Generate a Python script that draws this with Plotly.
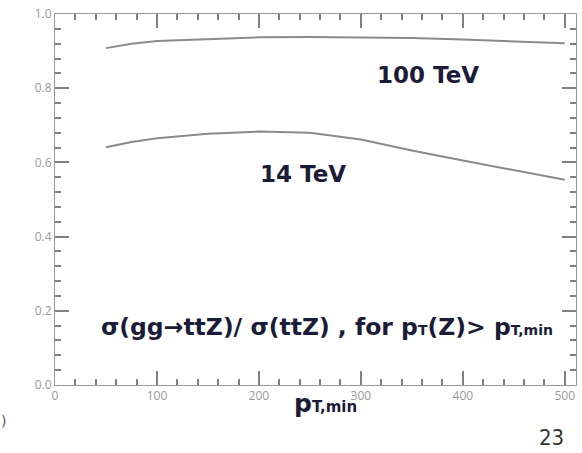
import plotly.graph_objects as go

# pT,min thresholds (GeV) and the gg-initiated fraction of ttZ
pt_min = [50, 75, 100, 150, 200, 250, 300, 350, 400, 450, 500]
ratio_100tev = [0.908, 0.920, 0.927, 0.933, 0.937, 0.938, 0.937, 0.935, 0.931, 0.927, 0.921]
ratio_14tev = [0.641, 0.655, 0.665, 0.677, 0.683, 0.680, 0.662, 0.632, 0.605, 0.580, 0.553]

x_range = [0, 511]
y_range = [0, 1]
x_major, x_minor = 100, 20
y_major, y_minor = 0.2, 0.04

curve_color = "#8a8a8a"
tick_color = "#808080"
text_color = "#1c1c38"
text_font = "DejaVu Sans"

fig = go.Figure()
for ys in (ratio_100tev, ratio_14tev):
    fig.add_trace(go.Scatter(x=pt_min, y=ys, mode="lines", line=dict(color=curve_color, width=2)))

W, H = 582, 453
ml, mr, mt, mb = 55, 6, 14, 68
pw, ph = W - ml - mr, H - mt - mb


def small(s, size):
    return f"<span style='font-size:{size}px'>{s}</span>"


annots = [
    dict(x=428, y=75, text="<b>100 TeV</b>", size=23),
    dict(x=303, y=174, text="<b>14 TeV</b>", size=23),
    dict(x=327, y=327,
         text="<b>σ(gg→ttZ)/ σ(ttZ) , for p" + small("T", 14) + "(Z)> p" + small("T,min", 14) + "</b>",
         size=23.5),
    dict(x=325, y=403, text="<b>p" + small("T,min", 15) + "</b>", size=25),
]
annotations = []
for a in annots:
    annotations.append(dict(
        x=(a["x"] - ml) / pw, y=1 - (a["y"] - mt) / ph, xref="paper", yref="paper",
        text=a["text"], showarrow=False, xanchor="center", yanchor="middle",
        font=dict(size=a["size"], family=text_font, color=text_color)))
annotations.append(dict(
    x=(551 - ml) / pw, y=1 - (437 - mt) / ph, xref="paper", yref="paper",
    text="23", showarrow=False, xanchor="center", yanchor="middle",
    font=dict(family="DejaVu Sans Condensed", size=22, color="#333333")))
annotations.append(dict(
    x=(3 - ml) / pw, y=1 - (421 - mt) / ph, xref="paper", yref="paper",
    text=")", showarrow=False, xanchor="center", yanchor="middle",
    font=dict(family="DejaVu Sans", size=14, color="#555555")))

fig.update_layout(
    width=W, height=H, margin=dict(l=ml, r=mr, t=mt, b=mb), showlegend=False,
    plot_bgcolor="white",
    xaxis=dict(range=x_range, dtick=x_major, ticks="inside", ticklen=14, tickwidth=2,
               tickcolor=tick_color, showline=True, linecolor="#999", mirror="ticks",
               showgrid=False, zeroline=False, tickfont=dict(size=12, color="#999999"),
               minor=dict(dtick=x_minor, ticks="inside", ticklen=6, tickwidth=2, tickcolor=tick_color)),
    yaxis=dict(range=y_range, dtick=y_major, ticks="inside", ticklen=14, tickwidth=2,
               tickcolor=tick_color, showline=True, linecolor="#999", mirror="ticks",
               showgrid=False, zeroline=False, tickformat=".1f",
               tickfont=dict(size=12, color="#999999"),
               minor=dict(dtick=y_minor, ticks="inside", ticklen=6, tickwidth=2, tickcolor=tick_color)),
    annotations=annotations,
)

fig.write_html("out.html")
